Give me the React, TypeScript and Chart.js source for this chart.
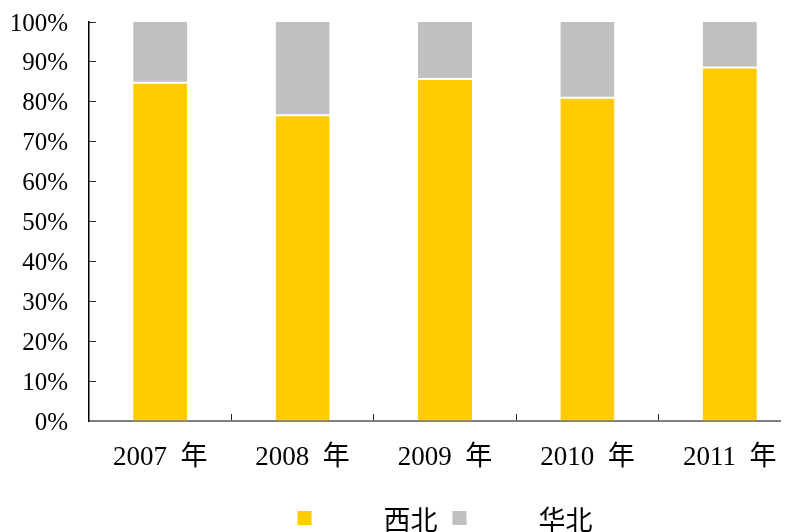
import React, { useEffect, useRef } from "react";
import { Chart, registerables } from "chart.js";

Chart.register(...registerables);

// 西北 / 华北 share (%) per year
const years = ["2007  年", "2008  年", "2009  年", "2010  年", "2011  年"];
const seriesNames = ["西北", "华北"];
const northwest = [84.8, 76.6, 85.7, 81.0, 88.6];
const northChina = [15.2, 23.4, 14.3, 19.0, 11.4];
const yTicks = [0, 10, 20, 30, 40, 50, 60, 70, 80, 90, 100];

const SERIF = '"Liberation Serif", "Noto Sans CJK SC", serif';
const CJK = '"Noto Sans CJK SC", sans-serif';

const COLORS = ["#FFCC00", "#C0C0C0"];

// Legend with a wide gap between the swatch and its text, centred under the plot
const spacedLegend = {
  id: "spacedLegend",
  afterDraw(chart: any) {
    const { ctx, chartArea } = chart;
    const box = 14;
    const boxTextGap = 72;
    const itemGap = 15;
    ctx.save();
    ctx.font = `27px ${CJK}`;
    const items = chart.data.datasets.map((ds: any) => ({
      text: ds.label as string,
      color: ds.backgroundColor as string,
      w: ctx.measureText(ds.label).width,
    }));
    const total =
      items.reduce((s: number, it: any) => s + box + boxTextGap + it.w, 0) +
      itemGap * (items.length - 1);
    let x = (chartArea.left + chartArea.right) / 2 - total / 2;
    const cy = chart.height - 13;
    ctx.textBaseline = "middle";
    ctx.textAlign = "left";
    for (const it of items) {
      ctx.fillStyle = it.color;
      ctx.fillRect(x, cy - box / 2 - 1, box, box);
      x += box + boxTextGap;
      ctx.fillStyle = "#000";
      ctx.fillText(it.text, x, cy + 1);
      x += it.w + itemGap;
    }
    ctx.restore();
  },
};

export default function App() {
  const ref = useRef<HTMLCanvasElement | null>(null);

  useEffect(() => {
    if (!ref.current) return;
    const chart = new Chart(ref.current, {
      type: "bar",
      data: {
        labels: years,
        datasets: [
          {
            label: seriesNames[0],
            data: northwest,
            backgroundColor: COLORS[0],
            borderColor: "#ffffff",
            borderWidth: { top: 1, left: 0, right: 0, bottom: 0 },
            borderSkipped: false,
            barPercentage: 0.38,
            categoryPercentage: 1,
          },
          {
            label: seriesNames[1],
            data: northChina,
            backgroundColor: COLORS[1],
            borderColor: "#ffffff",
            borderWidth: { top: 0, left: 0, right: 0, bottom: 1 },
            borderSkipped: false,
            barPercentage: 0.38,
            categoryPercentage: 1,
          },
        ],
      },
      options: {
        responsive: false,
        animation: false,
        devicePixelRatio: 1,
        layout: { padding: { top: 14, right: 7, bottom: 60, left: 0 } },
        plugins: {
          legend: { display: false },
          tooltip: { enabled: false },
        },
        scales: {
          x: {
            stacked: true,
            border: { display: true, color: "#7f7f7f", width: 2 },
            grid: {
              display: true,
              drawOnChartArea: false,
              drawTicks: true,
              tickLength: -7,
              color: "#202020",
              lineWidth: 1,
              offset: true,
            },
            ticks: {
              color: "#000",
              font: { family: SERIF, size: 27 },
              padding: 28,
              maxRotation: 0,
              autoSkip: false,
            },
            afterFit: (scale: any) => {
              scale.height = 51;
              scale.paddingLeft = 0;
              scale.paddingRight = 0;
            },
          },
          y: {
            stacked: true,
            min: 0,
            max: 100,
            afterBuildTicks: (scale: any) => {
              scale.ticks = yTicks.map((v) => ({ value: v }));
            },
            border: { display: true, color: "#000", width: 1.5 },
            grid: {
              display: true,
              drawOnChartArea: false,
              drawTicks: true,
              tickLength: -7,
              color: "#303030",
              lineWidth: 1,
            },
            ticks: {
              color: "#000",
              font: { family: SERIF, size: 25 },
              padding: 28,
              labelOffset: 2,
              callback: (v: any) => `${v}%`,
            },
            afterFit: (scale: any) => {
              scale.width = 81;
              scale.paddingTop = 0;
              scale.paddingBottom = 0;
            },
          },
        },
      },
      plugins: [spacedLegend],
    });
    return () => chart.destroy();
  }, []);

  return (
    <div style={{ width: 781, height: 524, overflow: "hidden" }}>
      <canvas
        ref={ref}
        width={800}
        height={524}
        style={{ display: "block", width: 800, height: 524 }}
      />
    </div>
  );
}
